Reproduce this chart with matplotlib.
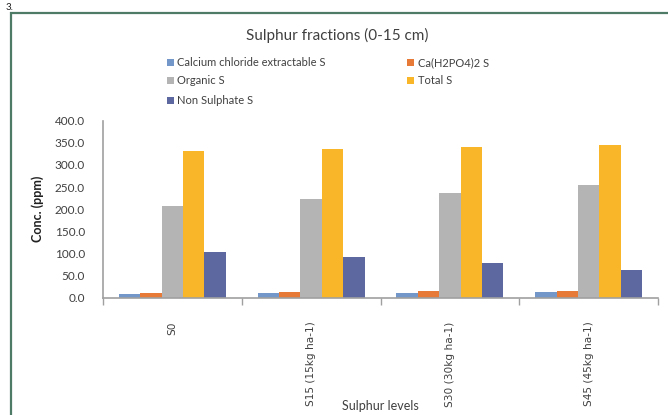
import matplotlib
matplotlib.use("Agg")
import matplotlib.pyplot as plt
from matplotlib.patches import Rectangle
import numpy as np

categories = ["S0", "S15 (15kg ha-1)", "S30 (30kg ha-1)", "S45 (45kg ha-1)"]
series_names = ["Calcium chloride extractable S", "Ca(H2PO4)2 S", "Organic S", "Total S", "Non Sulphate S"]
cacl2_s = [8.5, 10.0, 10.5, 13.0]
caph_s = [10.5, 13.0, 15.5, 15.5]
organic_s = [207.0, 224.0, 237.0, 255.0]
total_s = [331.5, 336.0, 340.5, 346.0]
non_sulphate_s = [103.0, 92.0, 78.0, 62.0]
yticks = [0, 50, 100, 150, 200, 250, 300, 350, 400]

colors = ["#7397c9", "#e87a38", "#b4b4b4", "#f9b628", "#5d68a1"]
values = [cacl2_s, caph_s, organic_s, total_s, non_sulphate_s]

plt.rcParams['font.family'] = ['Lato', 'DejaVu Sans']

fig = plt.figure(figsize=(6.68, 4.15), dpi=100)
ax = fig.add_axes([103/668, 1-297.7/415, (658-103)/668, (297.7-120.7)/415])

x = np.arange(len(categories))
w = 0.154
for i, (name, vals, c) in enumerate(zip(series_names, values, colors)):
    ax.bar(x + (i-2)*w, vals, width=w, color=c, label=name, zorder=2)

ax.set_xlim(-0.5, len(categories)-0.5)
ax.set_ylim(0, 400)
ax.set_yticks(yticks)
ax.set_yticklabels([f"{v:.1f}" for v in yticks], fontsize=8.5, color="#404040")
ax.tick_params(axis='y', length=0, pad=13)
ax.set_xticks(x)
ax.set_xticklabels(categories, rotation=90, fontsize=7.6, color="#404040",
                   family=['DejaVu Sans'], va='top')
ax.tick_params(axis='x', which='major', length=0, pad=17)
ax.set_xticks(np.arange(-0.5, len(categories), 1.0), minor=True)
ax.tick_params(axis='x', which='minor', length=5, color="#a0a0a0", width=1)
for s in ['top', 'right']:
    ax.spines[s].set_visible(False)
for s in ['left', 'bottom']:
    ax.spines[s].set_color("#a0a0a0")
    ax.spines[s].set_linewidth(1.2)

ax.set_ylabel("Conc. (ppm)", fontsize=9, fontweight='bold', labelpad=8, color="#202020")
fig.text(380/668, 1-406/415, "Sulphur levels", ha='center', va='center', fontsize=9, color="#404040")

fig.text(337/668, 1-35/415, "Sulphur fractions (0-15 cm)", ha='center', va='center', fontsize=11, color="#404040")

# legend
leg_pos = [(170, 63), (411, 63), (170, 81), (411, 81), (170, 100)]
for (lx, ly), name, c in zip(leg_pos, series_names, colors):
    fig.patches.append(Rectangle((lx/668 - 3.5/668, 1-(ly+3.5)/415), 7/668, 7/415,
                                 transform=fig.transFigure, facecolor=c, edgecolor='none'))
    fig.text((lx+7)/668, 1-ly/415, name, ha='left', va='center', fontsize=8, color="#404040")

# frame border
fig.patches.append(Rectangle((11/668, -0.1), 1.2, 1.1 - 13/415, transform=fig.transFigure,
                             facecolor='none', edgecolor="#4e7b66", linewidth=1.6))
fig.text(6/668, 1-10/415, "3.", ha='left', va='baseline', fontsize=7, color="#202020")

fig.savefig("out.png", dpi=100)
